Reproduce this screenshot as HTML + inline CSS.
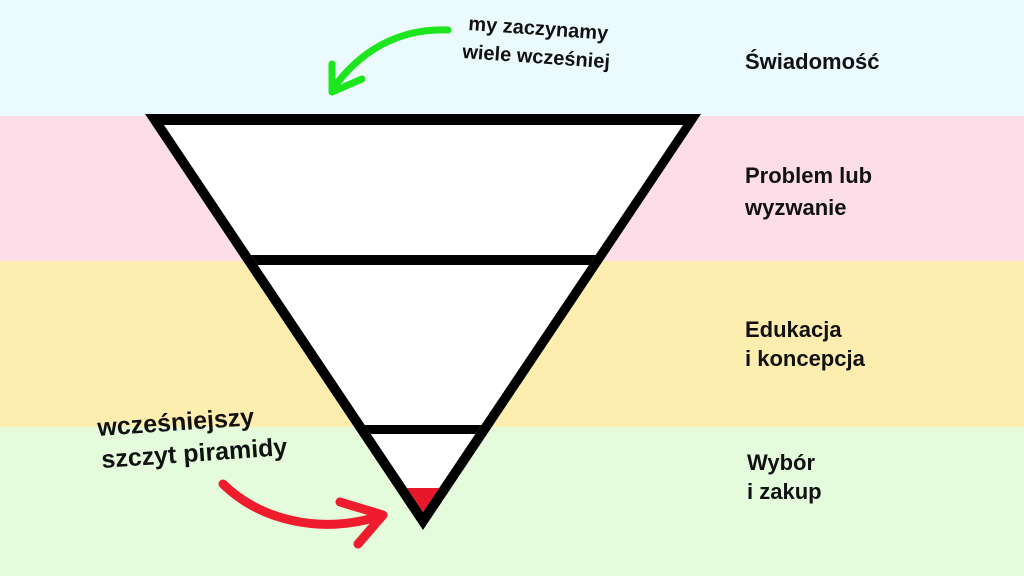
<!DOCTYPE html>
<html><head><meta charset="utf-8"><style>
body{margin:0;width:1024px;height:576px;overflow:hidden;font-family:"Liberation Sans",sans-serif;}
svg{display:block}
text{font-family:"Liberation Sans",sans-serif;font-weight:bold;fill:#111;}
</style></head><body>
<svg width="1024" height="576" viewBox="0 0 1024 576">
<rect x="0" y="0" width="1024" height="116" fill="#ebfafe"/>
<rect x="0" y="116" width="1024" height="145" fill="#fddde8"/>
<rect x="0" y="261" width="1024" height="166" fill="#fdeeb0"/>
<rect x="0" y="427" width="1024" height="149" fill="#e4fcdc"/>
<defs><clipPath id="inner"><polygon points="164,125 683,125 423,512"/></clipPath></defs>
<polygon points="145,114 701,114 423,530" fill="#000"/>
<polygon points="164,125 683,125 423,512" fill="#fff"/>
<g clip-path="url(#inner)">
<rect x="0" y="488" width="1024" height="40" fill="#e8182a"/>
<rect x="0" y="255" width="1024" height="10" fill="#000"/>
<rect x="0" y="425" width="1024" height="9" fill="#000"/>
</g>
<path d="M448,30 C400,28 360,50 332,90" stroke="#1ee61e" stroke-width="7" fill="none" stroke-linecap="round"/>
<path d="M332,64 L332,92 L362,79" stroke="#1ee61e" stroke-width="7" fill="none" stroke-linecap="round" stroke-linejoin="round"/>
<path d="M223,484 C260,520 320,535 380,516" stroke="#ee1c2c" stroke-width="9" fill="none" stroke-linecap="round"/>
<path d="M340,502 L383,515 L358,544" stroke="#ee1c2c" stroke-width="9" fill="none" stroke-linecap="round" stroke-linejoin="round"/>
<text x="468" y="30" font-size="20" transform="rotate(4 468 30)">my zaczynamy</text>
<text x="462" y="58" font-size="20" transform="rotate(4 462 58)">wiele wcześniej</text>
<text x="98" y="436" font-size="25" transform="rotate(-4 98 436)">wcześniejszy</text>
<text x="102" y="468" font-size="25" transform="rotate(-4 102 468)">szczyt piramidy</text>
<text x="745" y="69" font-size="22">Świadomość</text>
<text x="745" y="183" font-size="22">Problem lub</text>
<text x="745" y="215" font-size="22">wyzwanie</text>
<text x="745" y="337" font-size="22">Edukacja</text>
<text x="745" y="366" font-size="22">i koncepcja</text>
<text x="747" y="470" font-size="22">Wybór</text>
<text x="747" y="499" font-size="22">i zakup</text>
</svg>
</body></html>
